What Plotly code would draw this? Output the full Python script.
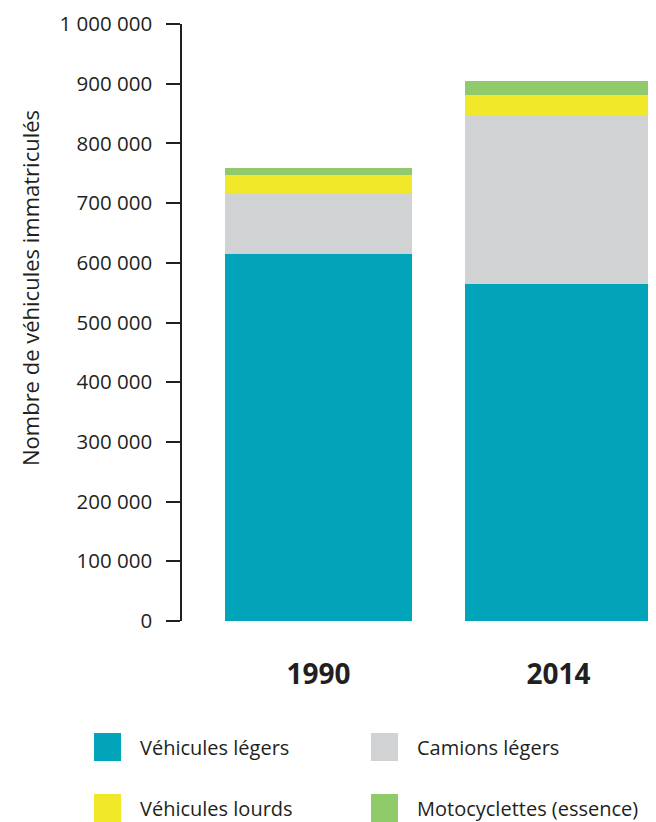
import plotly.graph_objects as go

# ---- data ----
years = ["1990", "2014"]
vehicules_legers = [615000, 564000]
camions_legers = [102000, 282000]
vehicules_lourds = [30000, 35000]
motocyclettes = [12000, 24000]

series_names = ["Véhicules légers", "Camions légers", "Véhicules lourds", "Motocyclettes (essence)"]
series_values = [vehicules_legers, camions_legers, vehicules_lourds, motocyclettes]
series_colors = ["#02A4B9", "#D1D2D4", "#F0E829", "#90CA6A"]

ytick_vals = [0, 100000, 200000, 300000, 400000, 500000, 600000, 700000, 800000, 900000, 1000000]
ytick_text = ["0", "100 000", "200 000", "300 000", "400 000", "500 000", "600 000",
              "700 000", "800 000", "900 000", "1 000 000"]
y_title = "Nombre de véhicules immatriculés"

FONT = "Open Sans"
TXT = "#231F20"

OFF = 8  # page body margin
W, H = 656 - OFF, 822 - OFF
ML, MR, MT = 182 - OFF, 0, 24 - OFF
MB = H - (621 - OFF)
PW = W - ML - MR
PH = H - MT - MB


def px_x(x):
    return (x - OFF - ML) / PW


def px_y(y):
    return (H - MB - (y - OFF)) / PH


fig = go.Figure()
for name, vals, col in zip(series_names, series_values, series_colors):
    fig.add_trace(go.Bar(x=[0, 1], y=vals, name=name, marker=dict(color=col, line=dict(width=0)),
                         width=0.78, showlegend=False))

fig.update_layout(
    barmode="stack",
    width=W, height=H,
    margin=dict(l=ML, r=MR, t=MT, b=MB, pad=0),
    paper_bgcolor="white", plot_bgcolor="white",
    font=dict(family=FONT, color=TXT),
    xaxis=dict(range=[-0.569, 1.406], tickvals=[0, 1], ticktext=years, showline=False,
               showgrid=False, zeroline=False, ticks="", ticklabelstandoff=34,
               tickfont=dict(family=FONT, size=28, color=TXT, weight="bold")),
    yaxis=dict(range=[0, 1000000], tickvals=ytick_vals, ticktext=ytick_text, showline=True,
               linecolor=TXT, linewidth=1.5, ticks="outside", ticklen=14, tickwidth=1.5,
               tickcolor=TXT, showgrid=False, zeroline=False, ticklabelstandoff=10,
               tickfont=dict(family=FONT, size=20.5, color=TXT)),
)

# axis title
fig.add_annotation(text=y_title, xref="paper", yref="paper", x=px_x(30), y=px_y(288),
                   textangle=-90, showarrow=False, font=dict(family=FONT, size=22, color=TXT),
                   xanchor="center", yanchor="middle")

# custom legend (large square swatches)
legend_pos = [(94, 747), (371, 747), (94, 808), (371, 808)]
for name, col, (lx, ly) in zip(series_names, series_colors, legend_pos):
    fig.add_shape(type="rect", xref="paper", yref="paper",
                  x0=px_x(lx), x1=px_x(lx + 27), y0=px_y(ly - 14), y1=px_y(ly + 14),
                  fillcolor=col, line=dict(width=0))
    fig.add_annotation(text=name, xref="paper", yref="paper", x=px_x(lx + 44), y=px_y(ly),
                       showarrow=False, xanchor="left", yanchor="middle",
                       font=dict(family=FONT, size=20, color=TXT))

fig.write_html("out.html")
